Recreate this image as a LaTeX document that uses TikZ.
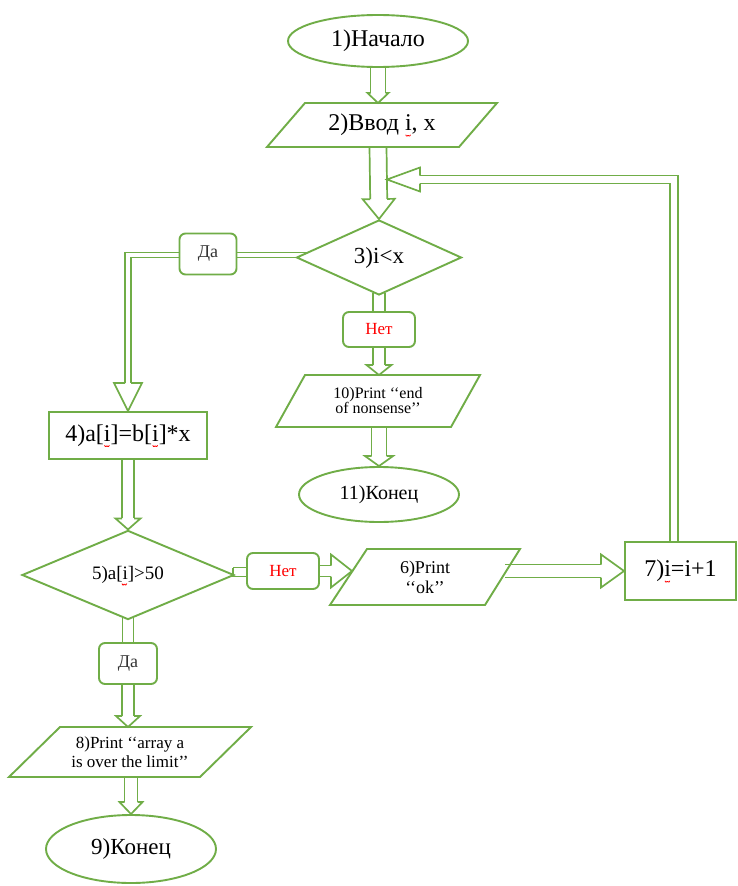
\documentclass[tikz,border=0pt]{standalone}
\usepackage{fontspec}
\setmainfont{Liberation Serif}
\usetikzlibrary{calc,shapes.geometric}
\definecolor{gr}{HTML}{70AD47}
\definecolor{rd}{HTML}{FF0000}
\newcommand\fs[1]{\fontsize{#1pt}{#1pt}\selectfont}
% red wavy spell-check mark under the preceding letter
\newcommand\wv[1]{#1\tikz[overlay,baseline=0pt,x=1pt,y=1pt]{\draw[red,line width=0.8pt,rounded corners=0.8pt] (-6,-4) -- (-4.8,-6) -- (-3.6,-4) -- (-2.4,-6) -- (-1.2,-4);}}
% hollow arrow head: base centre, tip, shaft half width, head half width
\newcommand\bhead[4]{%
  \draw[conn] ($(#1)!#3!90:(#2)$) -- ($(#1)!#4!90:(#2)$) -- (#2) -- ($(#1)!#4!-90:(#2)$) -- ($(#1)!#3!-90:(#2)$);}
% straight block arrow: start, tip, shaft half width, head half width, head length
\newcommand\barrow[5]{%
  \coordinate (bas) at (#1);
  \coordinate (bat) at (#2);
  \coordinate (bab) at ($(bat)!#5!(bas)$);
  \draw[conn] ($(bas)!#3!90:(bat)$) -- ($(bab)!#3!90:(bat)$);
  \draw[conn] ($(bas)!#3!-90:(bat)$) -- ($(bab)!#3!-90:(bat)$);
  \bhead{bab}{bat}{#3}{#4}}
\begin{document}
\begin{tikzpicture}[x=1pt,y=-1pt,
  shp/.style={draw=gr, line width=1.9pt, line join=miter},
  conn/.style={draw=gr, line width=1.7pt, line join=miter},
  ell/.style={shp, ellipse, inner sep=0pt},
  rbox/.style={shp, rounded corners=6pt, inner sep=0pt},
  dia/.style={shp, diamond, inner sep=0pt},
  txt/.style={inner sep=0pt, align=center}]
\useasboundingbox (0,0) rectangle (737,886);
\fill[white] (0,0) rectangle (737,886);

% ---- nodes ----
\node[ell, minimum width=180pt, minimum height=52pt, font=\fs{24}] (n1) at (378,41) {1)Начало};

\draw[shp] (305,103) -- (497,103) -- (459,147) -- (267,147) -- cycle;
\node[txt, font=\fs{24}] (n2) at (382,125) {2)Ввод \wv{i}, x};
\coordinate (n2t) at (378,103);
\coordinate (n2b) at (378,147);

\node[dia, minimum width=165pt, minimum height=75pt, font=\fs{23}] (n3) at (379,257.5) {3)i<x};
\node[rbox, minimum width=57pt, minimum height=41pt, font=\fs{18}, text=black!80] (b3y) at (208,254) {Да};
\node[rbox, minimum width=72pt, minimum height=35pt, font=\fs{17}, text=rd] (b3n) at (379,329.5) {Нет};

\draw[shp] (305,375) -- (480,375) -- (451,427) -- (276,427) -- cycle;
\node[txt, font=\fs{16}] (n10) at (378,401) {10)Print ‘‘end\\[-1pt]of nonsense’’};
\coordinate (n10t) at (379,375);
\coordinate (n10b) at (379,427);

\node[ell, minimum width=160pt, minimum height=55pt, font=\fs{20}] (n11) at (379,494.5) {11)Конец};

\node[shp, minimum width=158pt, minimum height=47pt, inner sep=0pt, font=\fs{24}] (n4) at (128,435.5) {4)a[\wv{i}]=b[\wv{i}]*x};
\node[dia, minimum width=212pt, minimum height=88pt, font=\fs{19}] (n5) at (128,575) {5)a[\wv{i}]>50};
\node[rbox, minimum width=72pt, minimum height=36pt, font=\fs{17}, text=rd] (b5n) at (283,571) {Нет};

\draw[shp] (367,549) -- (520,549) -- (485,605) -- (330,605) -- cycle;
\node[txt, font=\fs{18}] (n6) at (425,577) {6)Print\\[2pt]‘‘ok’’};
\coordinate (n6l) at (352,571);
\coordinate (n6r) at (505,571);

\node[shp, minimum width=111pt, minimum height=58pt, inner sep=0pt, font=\fs{24}] (n7) at (680.5,571) {7)\wv{i}=i+1};

\node[rbox, minimum width=58pt, minimum height=41pt, font=\fs{18}, text=black!80] (b5y) at (128,663.5) {Да};

\draw[shp] (60,727) -- (251,727) -- (200,777) -- (9,777) -- cycle;
\node[txt, font=\fs{17}] (n8) at (130,752) {8)Print ‘‘array a\\[2pt]is over the limit’’};
\coordinate (n8t) at (128,727);
\coordinate (n8b) at (131,777);

\node[ell, minimum width=170pt, minimum height=68pt, font=\fs{23}] (n9) at (131,849) {9)Конец};

% ---- connectors ----
\barrow{n1.south}{n2t}{7.5pt}{10.5pt}{10pt}
\barrow{n2b}{n3.north}{8.5pt}{16pt}{20pt}

% loop from 7 back into the shaft above 3
\coordinate (lb) at (420,179.5);
\coordinate (lt) at (387,179.5);
\draw[conn] ($(n7.north)+(-10.5,0)$) |- ($(lb)+(0,4)$);
\draw[conn] ($(n7.north)+(-2.5,0)$) |- ($(lb)+(0,-4)$);
\bhead{lb}{lt}{4pt}{12pt}

% 3 -> Да -> 4
\draw[conn] ($(b3y.east)+(0,-1.5)$) -- (306,252.5);
\draw[conn] ($(b3y.east)+(0,3.5)$) -- (297,257.5);
\coordinate (c4) at (128,383);
\draw[conn] ($(b3y.west)+(0,-1.5)$) -| ($(c4)+(-3,0)$);
\draw[conn] ($(b3y.west)+(0,3.5)$) -| ($(c4)+(3,0)$);
\bhead{c4}{n4.north}{3pt}{14pt}

% 3 -> Нет -> 10 -> 11
\draw[conn] ($(n3.south)+(-6,-2.7)$) -- ($(b3n.north)+(-6,0)$);
\draw[conn] ($(n3.south)+(6,-2.7)$) -- ($(b3n.north)+(6,0)$);
\barrow{b3n.south}{n10t}{6pt}{12.5pt}{10pt}
\barrow{n10b}{n11.north}{7.5pt}{14pt}{10pt}

% 4 -> 5
\barrow{n4.south}{n5.north}{6pt}{12.5pt}{11pt}

% 5 -> Нет -> 6 -> 7
\draw[conn] (233,567.5) -- ($(b5n.west)+(0,-3.5)$);
\draw[conn] (233,576.5) -- ($(b5n.west)+(0,5.5)$);
\draw[conn] (233,567.5) -- (233,576.5);
\barrow{b5n.east}{n6l}{5.5pt}{16.5pt}{21pt}
\barrow{n6r}{n7.west}{6.5pt}{16.5pt}{23pt}

% 5 -> Да -> 8 -> 9
\draw[conn] ($(n5.south)+(-5.5,-2.3)$) -- ($(b5y.north)+(-5.5,0)$);
\draw[conn] ($(n5.south)+(5.5,-2.3)$) -- ($(b5y.north)+(5.5,0)$);
\barrow{b5y.south}{n8t}{6pt}{12pt}{11pt}
\barrow{n8b}{n9.north}{6.5pt}{11.5pt}{12pt}
\end{tikzpicture}
\end{document}
